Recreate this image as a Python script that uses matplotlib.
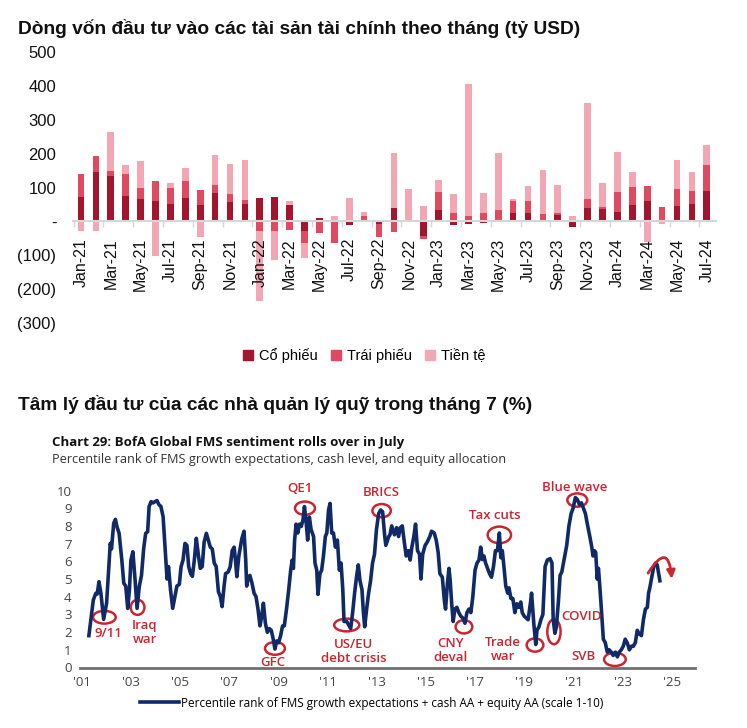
import numpy as np
import matplotlib.pyplot as plt
from matplotlib.patches import Ellipse, Patch
from matplotlib import font_manager

# ---- data: monthly flows (bn USD) ----
month_abbr = ['Jan', 'Feb', 'Mar', 'Apr', 'May', 'Jun', 'Jul', 'Aug', 'Sep', 'Oct', 'Nov', 'Dec']
months = [f'{m}-{y}' for y in (21, 22, 23) for m in month_abbr] + [f'{m}-24' for m in month_abbr[:7]]

equity = [72, 145, 133, 74, 65, 59, 51, 68, 47, 85, 57, 50,
          69, 73, 47, -29, 11, 0, -10, 0, -8, 40, 3, -43,
          34, -10, -9, -5, 0, 26, 26, 4, 18, -17, 39, 36,
          29, 47, 60, 0, 45, 50, 91]
bonds = [68, 48, 15, 66, 35, 59, 49, 52, 47, 21, 25, 12,
         -27, -29, -24, -35, -34, -64, 0, 15, -39, -32, 0, -10,
         54, 26, 15, 25, 35, 33, 33, 17, 7, 5, 26, 7,
         57, 55, 44, 42, 51, 39, 74]
cash = [-28, -27, 117, 27, 79, -103, 12, 37, -45, 91, 88, 118,
        -209, -84, 13, -45, 0, 17, 70, 14, 0, 163, 94, 44,
        35, 54, 391, 60, 168, 8, 46, 132, 82, 10, 284, 71,
        120, 45, -61, -7, 86, 58, 60]
series_names = ['Cổ phiếu', 'Trái phiếu', 'Tiền tệ']
series_colors = ['#a3142f', '#e04a61', '#f3a7b5']

# ---- data: BofA FMS sentiment (traced) ----
fms_year = [2001.28, 2001.46, 2001.56, 2001.62, 2001.69, 2001.77, 2001.88, 2002.00, 2002.11, 2002.15,
            2002.20, 2002.29, 2002.36, 2002.42, 2002.51, 2002.62, 2002.70, 2002.78, 2002.86, 2002.93,
            2002.99, 2003.07, 2003.16, 2003.24, 2003.33, 2003.42, 2003.51, 2003.59, 2003.67, 2003.73,
            2003.81, 2003.89, 2003.97, 2004.05, 2004.13, 2004.21, 2004.30, 2004.40, 2004.46, 2004.52,
            2004.60, 2004.69, 2004.78, 2004.86, 2004.96, 2005.03, 2005.11, 2005.19, 2005.27, 2005.34,
            2005.42, 2005.49, 2005.57, 2005.65, 2005.73, 2005.81, 2005.89, 2005.97, 2006.06, 2006.14,
            2006.22, 2006.30, 2006.38, 2006.46, 2006.55, 2006.63, 2006.70, 2006.78, 2006.84, 2006.95,
            2007.03, 2007.11, 2007.19, 2007.24, 2007.30, 2007.38, 2007.50, 2007.59, 2007.66, 2007.70,
            2007.77, 2007.83, 2007.91, 2008.00, 2008.08, 2008.16, 2008.24, 2008.31, 2008.38, 2008.46,
            2008.54, 2008.62, 2008.70, 2008.78, 2008.85, 2008.92, 2009.00, 2009.08, 2009.16, 2009.23,
            2009.32, 2009.41, 2009.49, 2009.55, 2009.60, 2009.65, 2009.71, 2009.78, 2009.85, 2009.92,
            2009.99, 2010.05, 2010.12, 2010.18, 2010.25, 2010.32, 2010.42, 2010.48, 2010.55, 2010.60,
            2010.68, 2010.75, 2010.82, 2010.90, 2010.96, 2011.03, 2011.09, 2011.16, 2011.23, 2011.31,
            2011.39, 2011.47, 2011.54, 2011.61, 2011.66, 2011.77, 2011.85, 2011.93, 2012.01, 2012.09,
            2012.17, 2012.24, 2012.31, 2012.39, 2012.45, 2012.50, 2012.58, 2012.66, 2012.74, 2012.82,
            2012.90, 2012.98, 2013.07, 2013.15, 2013.23, 2013.31, 2013.36, 2013.48, 2013.53, 2013.60,
            2013.71, 2013.80, 2013.88, 2013.95, 2014.03, 2014.12, 2014.19, 2014.28, 2014.35, 2014.42,
            2014.50, 2014.57, 2014.65, 2014.73, 2014.79, 2014.86, 2014.96, 2015.05, 2015.15, 2015.22,
            2015.33, 2015.41, 2015.49, 2015.56, 2015.66, 2015.74, 2015.79, 2015.87, 2015.93, 2015.98,
            2016.04, 2016.10, 2016.17, 2016.25, 2016.33, 2016.41, 2016.49, 2016.58, 2016.66, 2016.74,
            2016.82, 2016.90, 2016.99, 2017.07, 2017.15, 2017.22, 2017.29, 2017.35, 2017.42, 2017.50,
            2017.58, 2017.66, 2017.74, 2017.82, 2017.90, 2017.98, 2018.04, 2018.10, 2018.18, 2018.24,
            2018.32, 2018.37, 2018.45, 2018.53, 2018.61, 2018.69, 2018.77, 2018.85, 2018.91, 2018.99,
            2019.07, 2019.15, 2019.24, 2019.29, 2019.38, 2019.46, 2019.51, 2019.59, 2019.67, 2019.75,
            2019.84, 2019.93, 2020.04, 2020.12, 2020.17, 2020.24, 2020.30, 2020.38, 2020.45, 2020.52,
            2020.61, 2020.72, 2020.81, 2020.90, 2020.98, 2021.07, 2021.15, 2021.24, 2021.32, 2021.40,
            2021.48, 2021.56, 2021.66, 2021.74, 2021.79, 2021.85, 2021.90, 2021.96, 2022.01, 2022.06,
            2022.12, 2022.17, 2022.21, 2022.29, 2022.37, 2022.45, 2022.53, 2022.61, 2022.70, 2022.78,
            2022.86, 2022.94, 2023.02, 2023.10, 2023.18, 2023.27, 2023.35, 2023.43, 2023.51, 2023.59,
            2023.67, 2023.76, 2023.84, 2023.92, 2024.00, 2024.05, 2024.10, 2024.18, 2024.26, 2024.34,
            2024.40, 2024.45, 2024.51]
fms_value = [1.80, 3.81, 4.19, 4.15, 4.85, 4.19, 2.72, 3.63, 6.07, 7.01,
             6.70, 8.15, 8.37, 7.97, 7.58, 6.07, 4.76, 4.60, 3.34, 4.40,
             6.07, 6.54, 4.94, 3.34, 4.57, 5.20, 6.73, 7.58, 7.67, 9.09,
             9.37, 9.30, 9.37, 9.43, 9.20, 9.10, 8.52, 6.26, 5.00, 5.70,
             4.40, 3.34, 4.00, 4.60, 4.70, 5.69, 6.07, 7.01, 6.90, 5.70,
             5.30, 5.15, 6.07, 7.30, 6.40, 5.60, 5.70, 7.10, 7.58, 7.20,
             6.80, 6.70, 5.90, 5.70, 4.28, 4.00, 3.44, 4.60, 5.30, 5.40,
             5.70, 6.60, 6.80, 6.10, 5.13, 6.30, 7.26, 7.70, 6.10, 4.60,
             5.10, 5.20, 4.80, 4.20, 4.00, 3.30, 2.35, 2.90, 3.63, 2.50,
             1.99, 2.20, 2.10, 1.60, 1.04, 1.50, 1.40, 1.80, 2.35, 2.35,
             3.30, 4.40, 5.50, 6.07, 5.60, 7.20, 8.10, 7.60, 8.10, 7.97,
             8.33, 9.09, 8.20, 7.20, 8.50, 7.80, 7.40, 5.90, 5.50, 4.13,
             5.30, 5.50, 6.26, 7.40, 7.60, 8.90, 9.27, 7.60, 7.60, 6.80,
             7.20, 5.50, 5.90, 4.40, 2.60, 2.60, 2.40, 2.20, 3.10, 4.20,
             5.13, 5.80, 4.90, 4.40, 3.10, 2.30, 3.30, 4.20, 4.90, 5.90,
             6.40, 7.80, 8.70, 8.90, 8.80, 7.50, 6.90, 7.40, 7.50, 8.00,
             7.50, 7.90, 7.40, 7.90, 8.00, 7.00, 6.30, 6.60, 6.07, 6.80,
             7.40, 8.10, 6.60, 6.40, 5.00, 6.40, 6.90, 7.10, 7.40, 7.70,
             7.60, 7.20, 6.50, 5.30, 5.10, 3.80, 3.30, 4.80, 5.60, 4.90,
             3.60, 2.60, 3.30, 3.40, 3.10, 2.90, 2.80, 2.50, 3.10, 3.30,
             3.10, 4.00, 5.50, 5.90, 6.07, 6.80, 6.10, 6.30, 5.90, 5.60,
             5.30, 5.10, 5.70, 6.60, 6.60, 7.60, 6.20, 6.60, 5.50, 4.60,
             4.20, 4.50, 3.90, 3.90, 3.10, 3.60, 3.40, 3.70, 3.10, 2.90,
             2.80, 2.70, 3.60, 4.20, 2.50, 1.30, 2.10, 2.30, 2.70, 3.00,
             5.70, 6.07, 6.15, 5.90, 2.70, 1.93, 2.30, 3.70, 5.20, 5.40,
             6.07, 6.90, 8.00, 8.70, 9.00, 9.60, 9.50, 9.20, 9.30, 9.00,
             8.70, 8.10, 7.40, 6.80, 6.30, 6.60, 6.50, 5.00, 5.60, 4.70,
             3.50, 2.40, 1.60, 1.40, 0.87, 1.00, 0.87, 0.68, 0.87, 0.60,
             0.87, 1.00, 1.20, 1.60, 1.40, 1.00, 1.20, 1.20, 1.40, 2.10,
             1.90, 1.80, 2.70, 3.30, 3.40, 4.20, 4.50, 5.10, 5.70, 5.90,
             5.80, 5.40, 4.90]

year_ticks = list(range(2001, 2026, 2))
year_labels = ["'" + str(y)[2:] for y in year_ticks]

# events: label, label position, circle centre, circle size (years, units)
event_labels = ['9/11', 'Iraq\nwar', 'GFC', 'QE1', 'US/EU\ndebt crisis', 'BRICS', 'CNY\ndeval',
                'Tax cuts', 'Trade\nwar', 'COVID', 'Blue wave', 'SVB']
event_text_xy = [(2002.07, 1.93), (2003.55, 2.0), (2008.78, 0.28), (2009.87, 10.1), (2012.04, 0.9),
                 (2013.17, 9.9), (2016.0, 0.95), (2017.8, 8.6), (2018.14, 1.0), (2021.33, 2.9),
                 (2021.06, 10.15), (2021.4, 0.6)]
event_circle_xy = [(2001.91, 2.84), (2003.26, 3.4), (2008.85, 1.08), (2010.07, 9.0), (2011.77, 2.4),
                   (2013.19, 8.86), (2016.54, 2.3), (2017.98, 7.49), (2019.43, 1.27), (2020.2, 2.02),
                   (2021.15, 9.46), (2022.68, 0.46)]
event_circle_wh = [(0.92, 0.72), (0.56, 0.85), (0.81, 0.72), (0.81, 0.75), (1.02, 0.72),
                   (0.75, 0.75), (0.68, 0.75), (0.95, 0.94), (0.68, 0.75), (0.54, 1.41),
                   (0.81, 0.75), (0.88, 0.75)]

# ---- fonts ----
installed = {f.name for f in font_manager.fontManager.ttflist}
narrow = 'Liberation Sans Narrow' if 'Liberation Sans Narrow' in installed else 'Liberation Sans'
plt.rcParams['font.family'] = [narrow, 'DejaVu Sans']
bofa_font = ['Open Sans', 'DejaVu Sans']

fig = plt.figure(figsize=(7.47, 7.28), dpi=100)
W, H = 747, 728

# ================= top chart =================
fig.text(18 / W, 1 - 28 / H, 'Dòng vốn đầu tư vào các tài sản tài chính theo tháng (tỷ USD)',
         fontsize=13.8, fontweight='bold', va='center', color='#111111')

ax1 = fig.add_axes([73 / W, 1 - 323 / H, 643 / W, 271 / H])
x = np.arange(len(months))
pos_base = np.zeros(len(months))
neg_base = np.zeros(len(months))
for vals, name, col in zip([equity, bonds, cash], series_names, series_colors):
    v = np.array(vals, dtype=float)
    p = np.where(v > 0, v, 0)
    n = np.where(v < 0, v, 0)
    ax1.bar(x, p, width=0.45, bottom=pos_base, color=col, label=name)
    ax1.bar(x, n, width=0.45, bottom=neg_base, color=col)
    pos_base += p
    neg_base += n

ax1.set_xlim(-0.537, 42.62)
ax1.set_ylim(-300, 500)
for s in ['top', 'right', 'left']:
    ax1.spines[s].set_visible(False)
ax1.spines['bottom'].set_position(('data', 0))
ax1.spines['bottom'].set_color('#d6d6d6')
ax1.spines['bottom'].set_linewidth(1.5)
ax1.set_xticks(x[::2])
ax1.set_xticklabels(months[::2], rotation=90, fontsize=11.5, color='#111111')
ax1.set_xticks(x[::2] - 0.5, minor=True)
ax1.tick_params(axis='x', which='major', length=0, pad=12)
ax1.tick_params(axis='x', which='minor', length=4, color='#d6d6d6', width=1)
yt = list(range(-300, 501, 100))
ax1.set_yticks(yt)
ax1.set_yticklabels(['-' if v == 0 else (f'({-v})' if v < 0 else str(v)) for v in yt],
                    fontsize=12, color='#111111')
ax1.tick_params(axis='y', length=0, pad=12)

handles = [Patch(color=c) for c in series_colors]
fig.legend(handles, series_names, loc='center', bbox_to_anchor=(364 / W, 1 - 356 / H), ncol=3,
           frameon=False, fontsize=10.5, handlelength=0.7, handleheight=0.7, handletextpad=0.4,
           columnspacing=0.9)

# ================= bottom chart =================
fig.text(18 / W, 1 - 404 / H, 'Tâm lý đầu tư của các nhà quản lý quỹ trong tháng 7 (%)',
         fontsize=13.8, fontweight='bold', va='center', color='#111111')
fig.text(52 / W, 1 - 443 / H, 'Chart 29: BofA Global FMS sentiment rolls over in July',
         family=bofa_font, fontsize=9.5, fontweight='bold', va='center', color='#111111')
fig.text(52 / W, 1 - 459 / H, 'Percentile rank of FMS growth expectations, cash level, and equity allocation',
         family=bofa_font, fontsize=9.2, va='center', color='#333333')

ax2 = fig.add_axes([80 / W, 1 - 667.5 / H, 615 / W, 10.5 * 17.7 / H])
navy = '#0f2a66'
red = '#cc2530'
line, = ax2.plot(fms_year, fms_value, color=navy, lw=2.6, solid_joinstyle='round')
ax2.set_xlim(2001 - 2 / 24.58, 2001 + 613 / 24.58)
ax2.set_ylim(0, 10.5)
for s in ['top', 'right', 'left']:
    ax2.spines[s].set_visible(False)
ax2.spines['bottom'].set_color('#707070')
ax2.spines['bottom'].set_linewidth(2)
ax2.set_yticks(range(0, 11))
ax2.set_xticks(year_ticks)
ax2.set_xticklabels(year_labels)
for lab in ax2.get_xticklabels() + ax2.get_yticklabels():
    lab.set_family(bofa_font)
    lab.set_fontsize(9.5)
    lab.set_color('#444444')
ax2.tick_params(axis='y', length=0, pad=6)
ax2.tick_params(axis='x', length=0, pad=6)

for lab, txy, cxy, wh in zip(event_labels, event_text_xy, event_circle_xy, event_circle_wh):
    ax2.add_patch(Ellipse(cxy, wh[0], wh[1], fill=False, edgecolor=red, lw=1.8, clip_on=False))
    ax2.text(txy[0], txy[1], lab, ha='center', va='center', color=red, family=bofa_font,
             fontsize=9.5, fontweight='semibold', linespacing=1.1, clip_on=False)

ax2.annotate('', xy=(2025.0, 4.85), xytext=(2023.97, 5.2),
             arrowprops=dict(arrowstyle='-|>', connectionstyle='arc3,rad=-1.6', color=red, lw=2,
                             mutation_scale=12))

fig.legend([line], ['Percentile rank of FMS growth expectations + cash AA + equity AA (scale 1-10)'],
           loc='center', bbox_to_anchor=(372 / W, 1 - 703 / H), frameon=False, handlelength=3.3,
           handletextpad=0.2, prop={'family': bofa_font, 'size': 8.5})

fig.savefig('out.png', dpi=100)
